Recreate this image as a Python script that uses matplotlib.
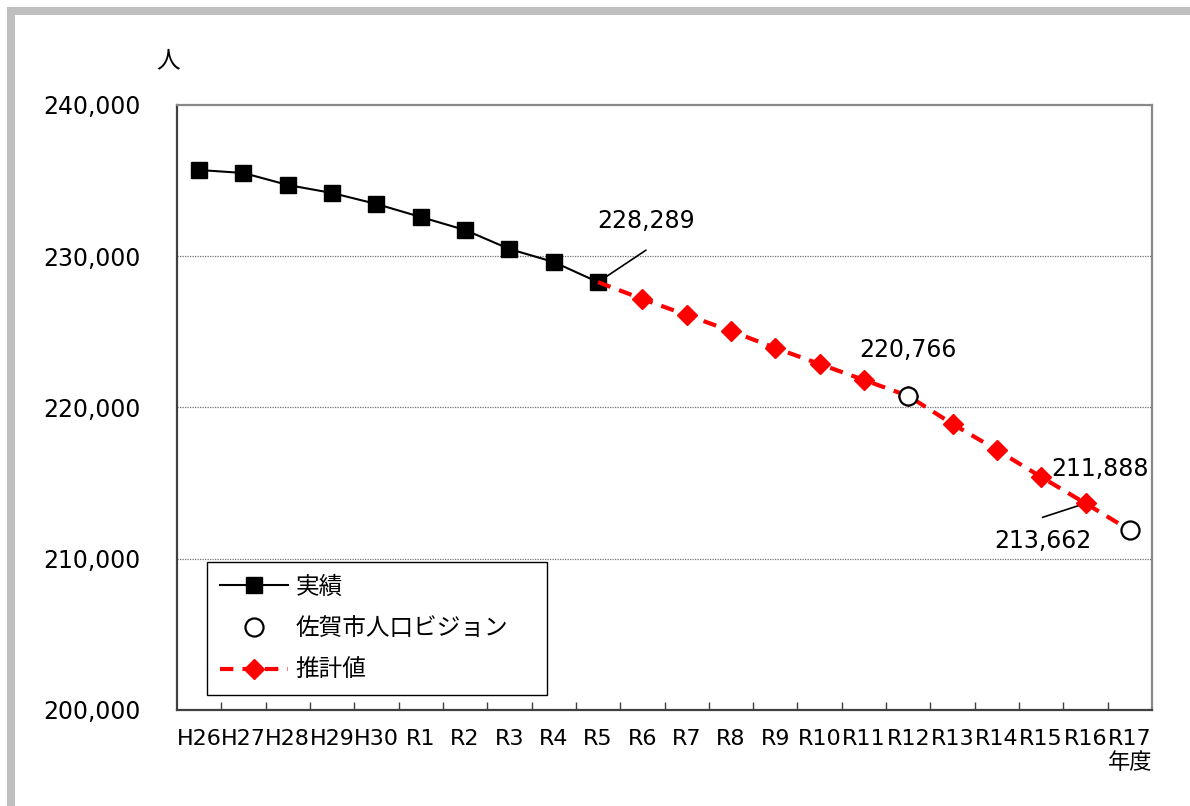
import matplotlib
matplotlib.use("Agg")
import matplotlib.pyplot as plt
from matplotlib.patches import Rectangle
from matplotlib.ticker import FuncFormatter, FixedLocator
import numpy as np

plt.rcParams['font.family'] = ['DejaVu Sans', 'Noto Sans CJK JP']

# 年度
years = ["H26", "H27", "H28", "H29", "H30", "R1", "R2", "R3", "R4", "R5", "R6",
         "R7", "R8", "R9", "R10", "R11", "R12", "R13", "R14", "R15", "R16", "R17"]

# 実績 (H26〜R5)
actual = [235702, 235504, 234711, 234182, 233455, 232595, 231736, 230479, 229620, 228289]

# 推計値 (R5〜R17)
estimate = [228289, 227174, 226116, 225058, 223934, 222876, 221818, 220766,
            218909, 217190, 215405, 213662, 211888]

# 佐賀市人口ビジョン (R12, R17)
vision_years = ["R12", "R17"]
vision = [220766, 211888]

x = np.arange(len(years))
x_act = x[:len(actual)]
x_est = x[len(actual) - 1:]
x_vis = [years.index(y) for y in vision_years]

fig = plt.figure(figsize=(11.9, 8.06), dpi=100)
ax = fig.add_axes([177 / 1190, 1 - 710 / 806, 975 / 1190, 605 / 806])

# 外枠 (灰色)
fig.add_artist(Rectangle((11 / 1190, -0.1), 1.2, 1.1 - 11 / 806,
                         transform=fig.transFigure, fill=False,
                         edgecolor="#BFBFBF", linewidth=5.8))

ax.plot(x_act, actual, color="black", lw=1.5, marker="s", ms=12,
        mfc="black", mec="black", label="実績", zorder=3)
ax.plot(x_vis, vision, linestyle="none", marker="o", ms=13, mfc="white",
        mec="black", mew=1.6, label="佐賀市人口ビジョン", zorder=5)
ax.plot(x_est, estimate, color="#FF0000", lw=3, dashes=(3.2, 2.2),
        marker="D", ms=10, mfc="#FF0000", mec="#FF0000",
        markevery=list(range(1, len(estimate) - 1)), label="推計値", zorder=4)

ax.set_xlim(-0.5, len(years) - 0.5)
ax.set_ylim(200000, 240000)
ax.set_yticks([200000, 210000, 220000, 230000, 240000])
ax.yaxis.set_major_formatter(FuncFormatter(lambda v, p: f"{int(v):,}"))
ax.tick_params(axis="y", length=0, pad=26, labelsize=17)
ax.set_xticks(x)
ax.set_xticklabels(years)
ax.xaxis.set_minor_locator(FixedLocator(np.arange(0.5, len(years) - 1, 1)))
ax.tick_params(axis="x", which="major", length=0, pad=14, labelsize=16)
ax.tick_params(axis="x", which="minor", direction="in", length=6, width=1, color="#404040")

for v in [210000, 220000, 230000]:
    ax.axhline(v, color="#707070", lw=0.9, ls=(0, (1, 1)), zorder=1)

for side in ["left", "bottom"]:
    ax.spines[side].set_color("#404040")
    ax.spines[side].set_linewidth(1.6)
for side in ["top", "right"]:
    ax.spines[side].set_color("#888888")
    ax.spines[side].set_linewidth(1.6)

# 数値ラベルと引出線
lbl = dict(fontsize=17, ha="center", va="center", textcoords="offset pixels")
lead = dict(textcoords="offset pixels",
            arrowprops=dict(arrowstyle="-", color="black", lw=1.2, shrinkA=0, shrinkB=0))

ax.annotate(f"{actual[-1]:,}", xy=(x_act[-1], actual[-1]), xytext=(48, 61), **lbl)
ax.annotate("", xy=(x_act[-1], actual[-1]), xytext=(48, 32), **lead)
ax.annotate(f"{vision[0]:,}", xy=(x_vis[0], vision[0]), xytext=(0, 46), **lbl)
ax.annotate(f"{vision[1]:,}", xy=(x_vis[1], vision[1]), xytext=(-30, 61), **lbl)
ax.annotate(f"{estimate[-2]:,}", xy=(x_est[-2], estimate[-2]), xytext=(-43, -38), **lbl)
ax.annotate("", xy=(x_est[-2], estimate[-2]), xytext=(-43, -14), **lead)

leg = ax.legend(loc="lower left", bbox_to_anchor=(0.0308, 0.0248, 0.349, 0.213),
                mode="expand", fontsize=17, handlelength=2.9, handletextpad=0.3,
                labelspacing=0.75, borderpad=0.55, fancybox=False, framealpha=1,
                edgecolor="black", borderaxespad=0)
leg.get_frame().set_linewidth(1.0)

fig.text(168 / 1190, 1 - 60 / 806, "人", fontsize=17, ha="center", va="center")
fig.text(1130 / 1190, 1 - 763 / 806, "年度", fontsize=16, ha="center", va="center")

fig.savefig("out.png", dpi=100)
